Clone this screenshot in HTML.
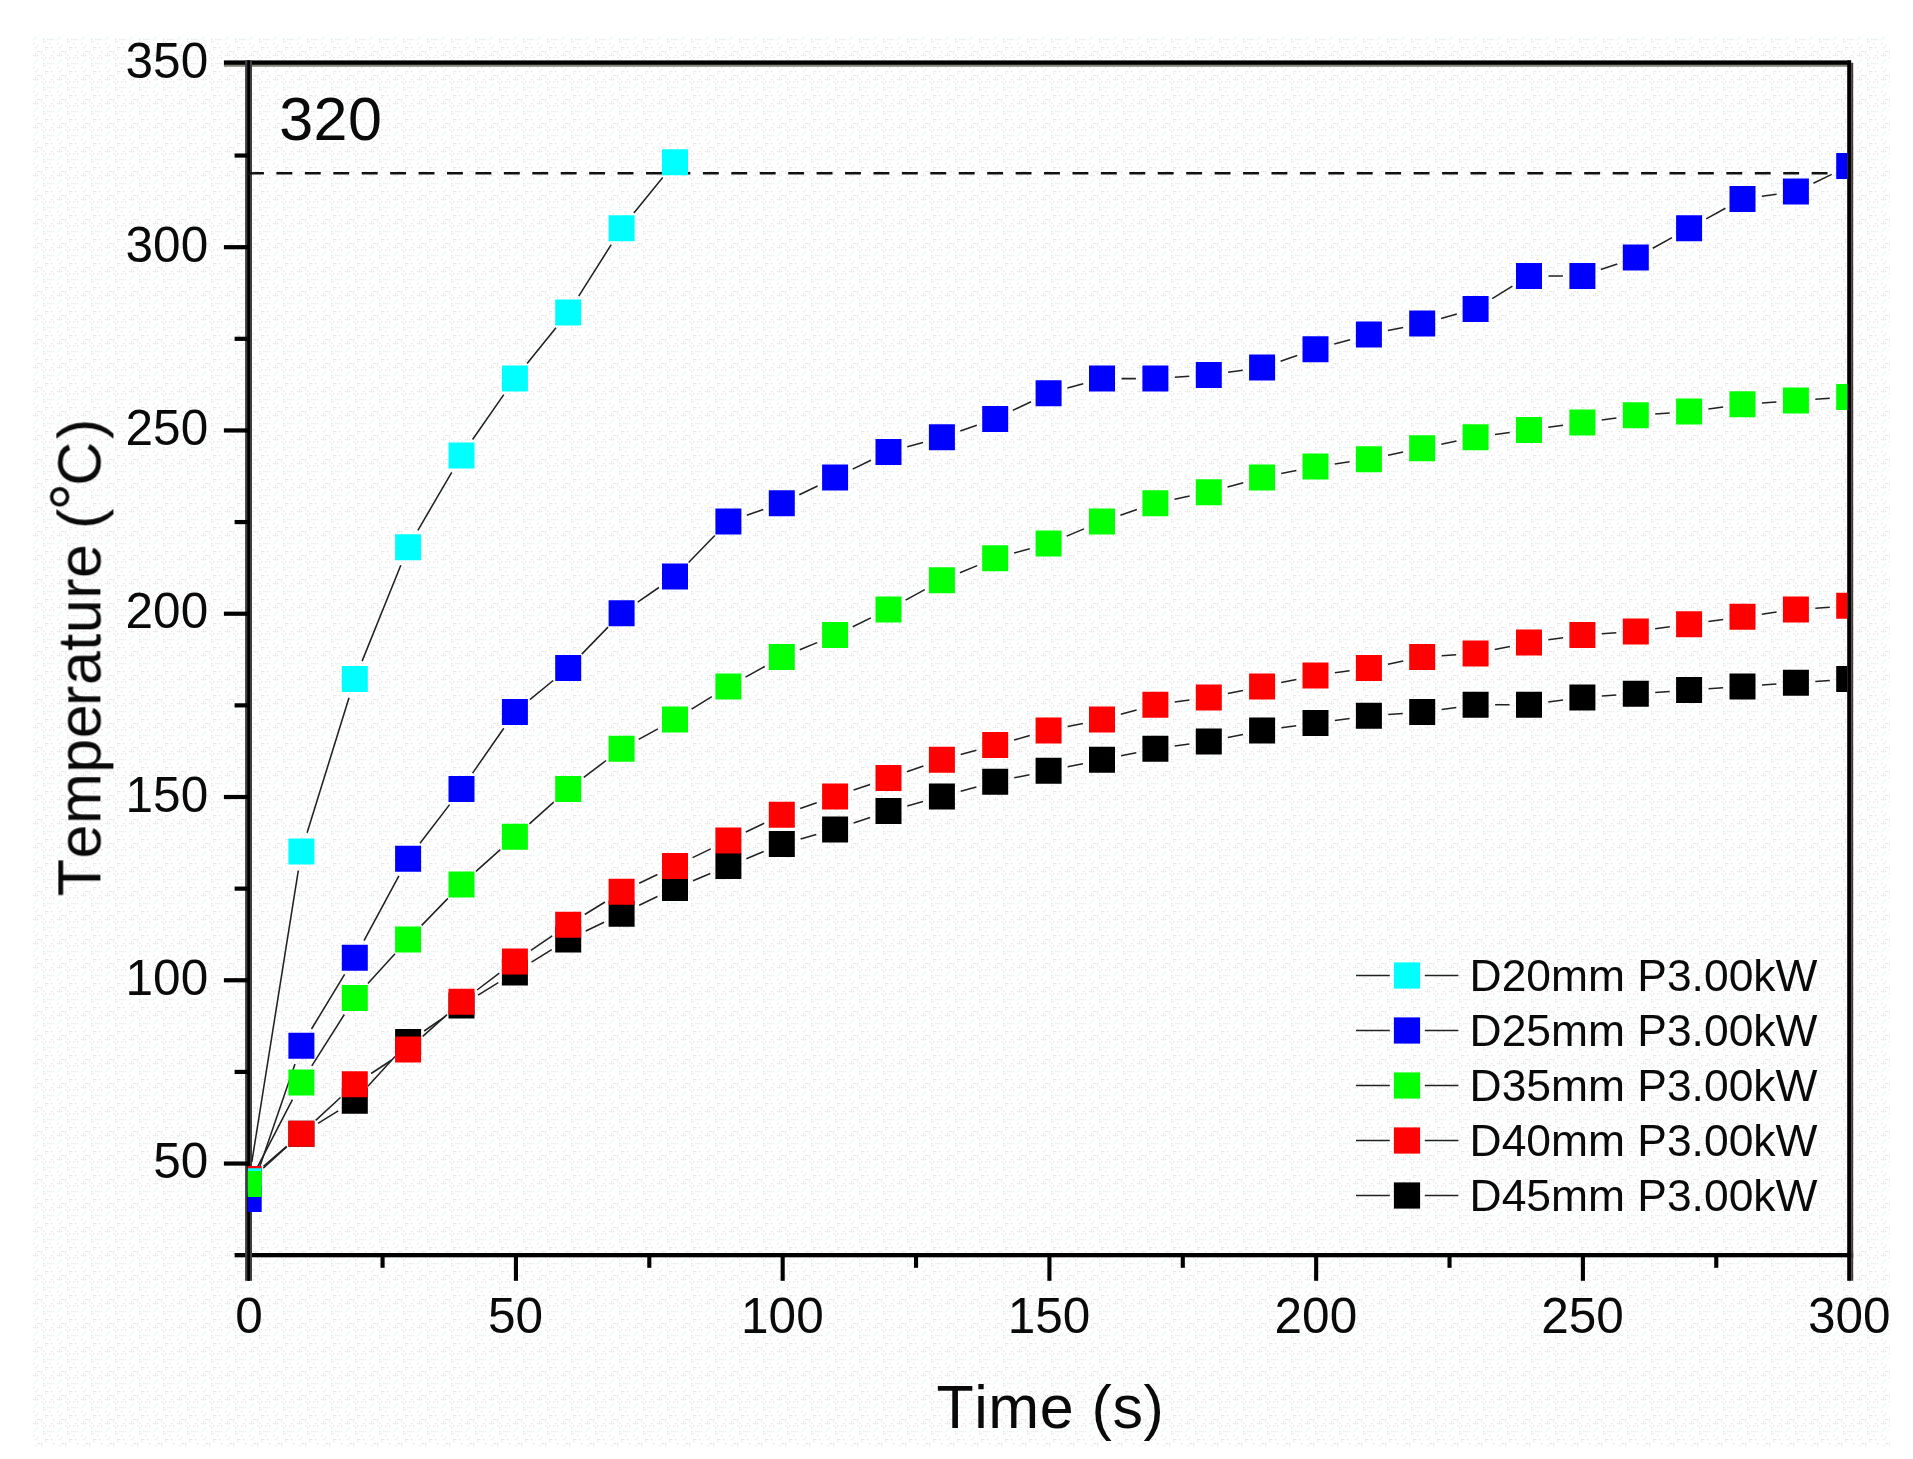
<!DOCTYPE html>
<html lang="en"><head><meta charset="utf-8"><title>Temperature vs Time</title>
<style>
html,body{margin:0;padding:0;background:#fff;}
body{width:1913px;height:1459px;overflow:hidden;}
svg{display:block;}
text{font-family:"Liberation Sans",Arial,Helvetica,sans-serif;fill:#0a0a0a;font-kerning:none;filter:blur(0.45px);}
.tk{font-size:49.5px;}
.lg{font-size:44.4px;}
.tt{font-size:61px;letter-spacing:0.85px;}
</style></head><body>
<svg width="1913" height="1459" viewBox="0 0 1913 1459">
<defs>
<pattern id="dz" x="33" y="37" width="24" height="24" patternUnits="userSpaceOnUse"><rect x="10" y="4" width="1.3" height="1.3" fill="#e3e3e3"/><rect x="0" y="2" width="1.3" height="1.3" fill="#d4f6f9"/><rect x="2" y="10" width="1.3" height="1.3" fill="#e3e3e3"/><rect x="16" y="6" width="1.3" height="1.3" fill="#e3e3e3"/><rect x="12" y="12" width="1.3" height="1.3" fill="#e3e3e3"/><rect x="2" y="16" width="1.3" height="1.3" fill="#e3e3e3"/><rect x="18" y="2" width="1.3" height="1.3" fill="#fbe3e3"/><rect x="20" y="20" width="1.3" height="1.3" fill="#e3e3e3"/><rect x="0" y="18" width="1.3" height="1.3" fill="#e3e3e3"/><rect x="0" y="6" width="1.3" height="1.3" fill="#e3e3e3"/><rect x="4" y="8" width="1.3" height="1.3" fill="#e3e3e3"/><rect x="16" y="2" width="1.3" height="1.3" fill="#e3e3e3"/><rect x="16" y="20" width="1.3" height="1.3" fill="#e3e3e3"/><rect x="18" y="18" width="1.3" height="1.3" fill="#e3e3e3"/><rect x="10" y="2" width="1.3" height="1.3" fill="#e3e3e3"/><rect x="2" y="18" width="1.3" height="1.3" fill="#e3e3e3"/><rect x="6" y="14" width="1.3" height="1.3" fill="#e3e3e3"/><rect x="12" y="10" width="1.3" height="1.3" fill="#e3e3e3"/><rect x="14" y="10" width="1.3" height="1.3" fill="#e3e3e3"/><rect x="4" y="22" width="1.3" height="1.3" fill="#d4f6f9"/><rect x="8" y="16" width="1.3" height="1.3" fill="#e3e3e3"/><rect x="10" y="22" width="1.3" height="1.3" fill="#e3e3e3"/><rect x="12" y="4" width="1.3" height="1.3" fill="#d4f6f9"/><rect x="4" y="14" width="1.3" height="1.3" fill="#e3e3e3"/><rect x="20" y="2" width="1.3" height="1.3" fill="#d4f6f9"/><rect x="18" y="10" width="1.3" height="1.3" fill="#e3e3e3"/><rect x="10" y="18" width="1.3" height="1.3" fill="#e3e3e3"/><rect x="14" y="2" width="1.3" height="1.3" fill="#d4f6f9"/><rect x="8" y="14" width="1.3" height="1.3" fill="#e3e3e3"/><rect x="2" y="0" width="1.3" height="1.3" fill="#d4f6f9"/><rect x="8" y="20" width="1.3" height="1.3" fill="#e3e3e3"/><rect x="20" y="14" width="1.3" height="1.3" fill="#e3e3e3"/><rect x="12" y="20" width="1.3" height="1.3" fill="#e3e3e3"/><rect x="4" y="18" width="1.3" height="1.3" fill="#e3e3e3"/></pattern>
<clipPath id="cp"><rect x="247.8" y="40" width="1599.5" height="1300"/></clipPath>
</defs>
<rect x="0" y="0" width="1913" height="1459" fill="#ffffff"/>
<rect x="33" y="37" width="1857" height="1409" fill="url(#dz)"/>
<rect x="223.9" y="60.4" width="1627.2" height="4.5" fill="#000"/>
<rect x="223.9" y="64.9" width="1627.2" height="1.9" fill="#858578"/>
<rect x="234.6" y="1253.0" width="1618.6" height="4.3" fill="#000"/>
<rect x="245.1" y="60.4" width="6.9" height="1220.4" fill="#3e3e3e"/>
<rect x="247.3" y="60.4" width="2.7" height="1220.4" fill="#000"/>
<rect x="1847.2" y="60.4" width="3.9" height="1220.4" fill="#000"/>
<rect x="1851.1" y="62.8" width="2.1" height="1218.0" fill="#453a3a"/>
<rect x="234.6" y="153.44" width="13" height="4.2" fill="#000"/>
<rect x="223.9" y="245.08" width="24" height="4.2" fill="#000"/>
<rect x="234.6" y="336.71" width="13" height="4.2" fill="#000"/>
<rect x="223.9" y="428.35" width="24" height="4.2" fill="#000"/>
<rect x="234.6" y="519.99" width="13" height="4.2" fill="#000"/>
<rect x="223.9" y="611.62" width="24" height="4.2" fill="#000"/>
<rect x="234.6" y="703.26" width="13" height="4.2" fill="#000"/>
<rect x="223.9" y="794.90" width="24" height="4.2" fill="#000"/>
<rect x="234.6" y="886.54" width="13" height="4.2" fill="#000"/>
<rect x="223.9" y="978.17" width="24" height="4.2" fill="#000"/>
<rect x="234.6" y="1069.81" width="13" height="4.2" fill="#000"/>
<rect x="223.9" y="1161.45" width="24" height="4.2" fill="#000"/>
<rect x="380.52" y="1255" width="4.1" height="12.8" fill="#000"/>
<rect x="513.89" y="1255" width="4.1" height="25.8" fill="#000"/>
<rect x="647.26" y="1255" width="4.1" height="12.8" fill="#000"/>
<rect x="780.63" y="1255" width="4.1" height="25.8" fill="#000"/>
<rect x="914.00" y="1255" width="4.1" height="12.8" fill="#000"/>
<rect x="1047.37" y="1255" width="4.1" height="25.8" fill="#000"/>
<rect x="1180.74" y="1255" width="4.1" height="12.8" fill="#000"/>
<rect x="1314.11" y="1255" width="4.1" height="25.8" fill="#000"/>
<rect x="1447.48" y="1255" width="4.1" height="12.8" fill="#000"/>
<rect x="1580.85" y="1255" width="4.1" height="25.8" fill="#000"/>
<rect x="1714.22" y="1255" width="4.1" height="12.8" fill="#000"/>
<line x1="248" y1="173.3" x2="1836" y2="173.3" stroke="#111" stroke-width="2.4" stroke-dasharray="15.9 12.53"/>
<g clip-path="url(#cp)">
<path d="M263.2 1168.3L286.9 1146.8M318.0 1123.4L338.2 1110.9M367.9 1086.3L395.0 1056.5M424.2 1031.0L445.4 1016.4M478.1 995.1L498.3 982.6M531.5 962.1L551.7 949.7M585.8 931.0L604.1 922.2M639.2 905.3L657.4 896.5M693.0 880.7L710.3 873.5M746.4 858.7L763.7 851.5M800.6 838.9L816.3 834.6M853.6 823.1L870.1 817.4M907.3 805.9L923.1 801.6M960.7 791.3L976.4 786.9M1014.3 777.8L1029.5 774.7M1067.7 766.8L1082.9 763.7M1121.1 755.8L1136.3 752.7M1174.7 746.1L1189.4 744.1M1227.8 737.5L1243.0 734.4M1281.4 727.8L1296.2 725.8M1334.8 720.5L1349.6 718.4M1388.3 714.5L1402.8 713.5M1441.6 709.5L1456.3 707.5M1495.1 704.8L1509.5 704.8M1548.3 702.1L1563.1 700.1M1601.8 696.1L1616.3 695.1M1655.2 692.5L1669.7 691.5M1708.6 688.8L1723.0 687.8M1762.0 685.1L1776.4 684.1M1815.3 681.5L1829.8 680.5" stroke="#222222" stroke-width="1.55" fill="none"/>
<path d="M263.5 1166.4L286.6 1146.4M315.7 1120.4L340.5 1097.5M371.1 1073.5L391.8 1060.0M422.7 1036.4L447.0 1014.7M477.1 990.0L499.3 973.2M530.9 950.4L552.2 935.8M584.8 914.5L605.0 902.0M639.2 883.3L657.4 874.5M692.6 857.6L710.8 848.9M745.9 832.0L764.2 823.2M800.2 808.4L816.7 802.8M853.6 790.1L870.1 784.4M906.9 771.8L923.4 766.1M960.7 754.6L976.4 750.3M1014.1 740.0L1029.8 735.6M1067.7 726.5L1082.9 723.4M1120.8 714.3L1136.6 710.0M1174.7 702.1L1189.4 700.1M1227.8 693.5L1243.0 690.4M1281.2 682.5L1296.4 679.4M1334.8 672.8L1349.6 670.8M1388.0 664.2L1403.2 661.1M1441.7 655.8L1456.2 654.8M1494.7 649.5L1509.9 646.4M1548.3 639.8L1563.1 637.8M1601.8 633.8L1616.3 632.8M1655.1 628.8L1669.8 626.8M1708.4 621.5L1723.2 619.5M1761.8 614.2L1776.6 612.1M1815.3 608.2L1829.8 607.2" stroke="#222222" stroke-width="1.55" fill="none"/>
<path d="M251.8 1162.1L298.3 870.7M307.1 832.8L349.0 697.8M362.1 661.1L400.8 565.2M417.9 530.3L451.7 472.4M472.6 439.5L503.8 394.6M527.1 363.4L556.0 327.7M578.7 296.1L611.2 244.7M633.9 213.1L662.7 177.4" stroke="#222222" stroke-width="1.55" fill="none"/>
<path d="M255.0 1180.5L295.0 1064.1M311.5 1029.0L344.6 974.4M364.0 940.6L398.9 875.9M420.0 843.3L449.6 804.6M472.6 773.1L503.8 728.2M529.9 699.7L553.2 680.5M581.8 654.1L608.0 627.1M637.7 602.1L658.9 587.5M688.6 562.5L714.8 535.5M746.8 515.2L763.3 509.5M799.3 494.7L817.6 486.0M852.7 469.1L870.9 460.3M907.3 446.7L923.1 442.4M960.3 430.9L976.8 425.2M1012.8 410.4L1031.1 401.7M1067.4 388.0L1083.2 383.7M1121.5 378.6L1135.9 378.6M1174.8 377.2L1189.3 376.2M1228.1 372.2L1242.8 370.2M1280.6 361.2L1297.1 355.6M1334.3 344.1L1350.1 339.7M1388.0 330.6L1403.2 327.5M1441.1 318.4L1456.8 314.1M1492.2 298.6L1512.4 286.2M1548.5 275.9L1562.9 275.9M1600.8 269.6L1617.3 263.9M1652.8 248.2L1672.0 237.6M1706.2 218.9L1725.4 208.3M1761.8 196.3L1776.6 194.3M1813.4 183.2L1831.7 174.4" stroke="#222222" stroke-width="1.55" fill="none"/>
<path d="M257.7 1166.6L292.4 1099.7M311.8 1065.9L344.3 1014.5M367.9 983.6L395.0 953.8M421.7 925.4L447.9 898.4M476.0 871.4L500.3 849.7M529.4 823.8L553.7 802.1M583.8 777.4L606.1 760.5M638.7 739.4L657.9 728.9M691.6 709.2L711.8 696.7M745.5 677.1L764.7 666.5M799.8 649.7L817.1 642.6M852.7 626.7L870.9 617.9M905.6 600.1L924.8 589.6M959.9 572.7L977.2 565.6M1014.1 553.0L1029.8 548.7M1066.7 536.1L1084.0 528.9M1120.4 515.2L1136.9 509.5M1174.5 499.2L1189.7 496.1M1227.6 487.0L1243.3 482.7M1281.2 473.6L1296.4 470.5M1334.8 463.9L1349.6 461.8M1388.0 455.3L1403.2 452.1M1441.3 444.3L1456.5 441.1M1494.9 434.5L1509.7 432.5M1548.3 427.2L1563.1 425.2M1601.7 419.9L1616.4 417.9M1655.2 413.9L1669.7 412.9M1708.4 408.9L1723.2 406.9M1762.0 402.9L1776.4 401.9M1815.3 399.2L1829.8 398.2" stroke="#222222" stroke-width="1.55" fill="none"/>
<path d="M235.7 1168.3h26.0v26.0h-26.0zM288.4 1120.7h26.0v26.0h-26.0zM341.8 1087.7h26.0v26.0h-26.0zM395.1 1029.0h26.0v26.0h-26.0zM448.5 992.4h26.0v26.0h-26.0zM501.9 959.4h26.0v26.0h-26.0zM555.2 926.4h26.0v26.0h-26.0zM608.6 900.7h26.0v26.0h-26.0zM662.0 875.1h26.0v26.0h-26.0zM715.4 853.1h26.0v26.0h-26.0zM768.8 831.1h26.0v26.0h-26.0zM822.1 816.4h26.0v26.0h-26.0zM875.5 798.1h26.0v26.0h-26.0zM928.9 783.4h26.0v26.0h-26.0zM982.2 768.8h26.0v26.0h-26.0zM1035.6 757.8h26.0v26.0h-26.0zM1089.0 746.8h26.0v26.0h-26.0zM1142.4 735.8h26.0v26.0h-26.0zM1195.8 728.5h26.0v26.0h-26.0zM1249.1 717.5h26.0v26.0h-26.0zM1302.5 710.1h26.0v26.0h-26.0zM1355.9 702.8h26.0v26.0h-26.0zM1409.2 699.1h26.0v26.0h-26.0zM1462.6 691.8h26.0v26.0h-26.0zM1516.0 691.8h26.0v26.0h-26.0zM1569.4 684.5h26.0v26.0h-26.0zM1622.8 680.8h26.0v26.0h-26.0zM1676.1 677.1h26.0v26.0h-26.0zM1729.5 673.5h26.0v26.0h-26.0zM1782.9 669.8h26.0v26.0h-26.0zM1836.2 666.1h26.0v26.0h-26.0z" fill="#000000"/>
<path d="M235.7 1166.1h26.0v26.0h-26.0zM288.4 1120.7h26.0v26.0h-26.0zM341.8 1071.2h26.0v26.0h-26.0zM395.1 1036.4h26.0v26.0h-26.0zM448.5 988.7h26.0v26.0h-26.0zM501.9 948.4h26.0v26.0h-26.0zM555.2 911.7h26.0v26.0h-26.0zM608.6 878.7h26.0v26.0h-26.0zM662.0 853.1h26.0v26.0h-26.0zM715.4 827.4h26.0v26.0h-26.0zM768.8 801.8h26.0v26.0h-26.0zM822.1 783.4h26.0v26.0h-26.0zM875.5 765.1h26.0v26.0h-26.0zM928.9 746.8h26.0v26.0h-26.0zM982.2 732.1h26.0v26.0h-26.0zM1035.6 717.5h26.0v26.0h-26.0zM1089.0 706.5h26.0v26.0h-26.0zM1142.4 691.8h26.0v26.0h-26.0zM1195.8 684.5h26.0v26.0h-26.0zM1249.1 673.5h26.0v26.0h-26.0zM1302.5 662.5h26.0v26.0h-26.0zM1355.9 655.1h26.0v26.0h-26.0zM1409.2 644.1h26.0v26.0h-26.0zM1462.6 640.5h26.0v26.0h-26.0zM1516.0 629.5h26.0v26.0h-26.0zM1569.4 622.1h26.0v26.0h-26.0zM1622.8 618.5h26.0v26.0h-26.0zM1676.1 611.2h26.0v26.0h-26.0zM1729.5 603.8h26.0v26.0h-26.0zM1782.9 596.5h26.0v26.0h-26.0zM1836.2 592.8h26.0v26.0h-26.0z" fill="#ff0000"/>
<path d="M235.7 1168.3h26.0v26.0h-26.0zM288.4 838.4h26.0v26.0h-26.0zM341.8 666.1h26.0v26.0h-26.0zM395.1 534.2h26.0v26.0h-26.0zM448.5 442.5h26.0v26.0h-26.0zM501.9 365.6h26.0v26.0h-26.0zM555.2 299.6h26.0v26.0h-26.0zM608.6 215.3h26.0v26.0h-26.0zM662.0 149.3h26.0v26.0h-26.0z" fill="#00ffff"/>
<path d="M235.7 1185.9h26.0v26.0h-26.0zM288.4 1032.7h26.0v26.0h-26.0zM341.8 944.7h26.0v26.0h-26.0zM395.1 845.8h26.0v26.0h-26.0zM448.5 776.1h26.0v26.0h-26.0zM501.9 699.1h26.0v26.0h-26.0zM555.2 655.1h26.0v26.0h-26.0zM608.6 600.2h26.0v26.0h-26.0zM662.0 563.5h26.0v26.0h-26.0zM715.4 508.5h26.0v26.0h-26.0zM768.8 490.2h26.0v26.0h-26.0zM822.1 464.5h26.0v26.0h-26.0zM875.5 438.9h26.0v26.0h-26.0zM928.9 424.2h26.0v26.0h-26.0zM982.2 405.9h26.0v26.0h-26.0zM1035.6 380.2h26.0v26.0h-26.0zM1089.0 365.6h26.0v26.0h-26.0zM1142.4 365.6h26.0v26.0h-26.0zM1195.8 361.9h26.0v26.0h-26.0zM1249.1 354.6h26.0v26.0h-26.0zM1302.5 336.2h26.0v26.0h-26.0zM1355.9 321.6h26.0v26.0h-26.0zM1409.2 310.6h26.0v26.0h-26.0zM1462.6 295.9h26.0v26.0h-26.0zM1516.0 262.9h26.0v26.0h-26.0zM1569.4 262.9h26.0v26.0h-26.0zM1622.8 244.6h26.0v26.0h-26.0zM1676.1 215.3h26.0v26.0h-26.0zM1729.5 185.9h26.0v26.0h-26.0zM1782.9 178.6h26.0v26.0h-26.0zM1836.2 152.9h26.0v26.0h-26.0z" fill="#0000ff"/>
<path d="M235.7 1170.9h26.0v26.0h-26.0zM288.4 1069.4h26.0v26.0h-26.0zM341.8 985.1h26.0v26.0h-26.0zM395.1 926.4h26.0v26.0h-26.0zM448.5 871.4h26.0v26.0h-26.0zM501.9 823.8h26.0v26.0h-26.0zM555.2 776.1h26.0v26.0h-26.0zM608.6 735.8h26.0v26.0h-26.0zM662.0 706.5h26.0v26.0h-26.0zM715.4 673.5h26.0v26.0h-26.0zM768.8 644.1h26.0v26.0h-26.0zM822.1 622.1h26.0v26.0h-26.0zM875.5 596.5h26.0v26.0h-26.0zM928.9 567.2h26.0v26.0h-26.0zM982.2 545.2h26.0v26.0h-26.0zM1035.6 530.5h26.0v26.0h-26.0zM1089.0 508.5h26.0v26.0h-26.0zM1142.4 490.2h26.0v26.0h-26.0zM1195.8 479.2h26.0v26.0h-26.0zM1249.1 464.5h26.0v26.0h-26.0zM1302.5 453.5h26.0v26.0h-26.0zM1355.9 446.2h26.0v26.0h-26.0zM1409.2 435.2h26.0v26.0h-26.0zM1462.6 424.2h26.0v26.0h-26.0zM1516.0 416.9h26.0v26.0h-26.0zM1569.4 409.5h26.0v26.0h-26.0zM1622.8 402.2h26.0v26.0h-26.0zM1676.1 398.5h26.0v26.0h-26.0zM1729.5 391.2h26.0v26.0h-26.0zM1782.9 387.5h26.0v26.0h-26.0zM1836.2 383.9h26.0v26.0h-26.0z" fill="#00ff00"/>
</g>
<path d="M1356 975.5H1389.8M1424.8 975.5H1458.4" stroke="#222222" stroke-width="1.55" fill="none"/>
<rect x="1393.9" y="962.4" width="26.2" height="26.2" fill="#00ffff"/>
<text class="lg" x="1469.6" y="991.1">D20mm P3.00kW</text>
<path d="M1356 1030.5H1389.8M1424.8 1030.5H1458.4" stroke="#222222" stroke-width="1.55" fill="none"/>
<rect x="1393.9" y="1017.4" width="26.2" height="26.2" fill="#0000ff"/>
<text class="lg" x="1469.6" y="1046.1">D25mm P3.00kW</text>
<path d="M1356 1085.5H1389.8M1424.8 1085.5H1458.4" stroke="#222222" stroke-width="1.55" fill="none"/>
<rect x="1393.9" y="1072.4" width="26.2" height="26.2" fill="#00ff00"/>
<text class="lg" x="1469.6" y="1101.1">D35mm P3.00kW</text>
<path d="M1356 1140.5H1389.8M1424.8 1140.5H1458.4" stroke="#222222" stroke-width="1.55" fill="none"/>
<rect x="1393.9" y="1127.4" width="26.2" height="26.2" fill="#ff0000"/>
<text class="lg" x="1469.6" y="1156.1">D40mm P3.00kW</text>
<path d="M1356 1195.5H1389.8M1424.8 1195.5H1458.4" stroke="#222222" stroke-width="1.55" fill="none"/>
<rect x="1393.9" y="1182.4" width="26.2" height="26.2" fill="#000000"/>
<text class="lg" x="1469.6" y="1211.1">D45mm P3.00kW</text>
<text class="tk" text-anchor="end" x="208.2" y="1178.1">50</text>
<text class="tk" text-anchor="end" x="208.2" y="994.8">100</text>
<text class="tk" text-anchor="end" x="208.2" y="811.5">150</text>
<text class="tk" text-anchor="end" x="208.2" y="628.2">200</text>
<text class="tk" text-anchor="end" x="208.2" y="444.9">250</text>
<text class="tk" text-anchor="end" x="208.2" y="261.7">300</text>
<text class="tk" text-anchor="end" x="208.2" y="78.4">350</text>
<text class="tk" text-anchor="middle" x="248.9" y="1333.3">0</text>
<text class="tk" text-anchor="middle" x="515.6" y="1333.3">50</text>
<text class="tk" text-anchor="middle" x="782.4" y="1333.3">100</text>
<text class="tk" text-anchor="middle" x="1049.1" y="1333.3">150</text>
<text class="tk" text-anchor="middle" x="1315.9" y="1333.3">200</text>
<text class="tk" text-anchor="middle" x="1582.6" y="1333.3">250</text>
<text class="tk" text-anchor="middle" x="1849.3" y="1333.3">300</text>
<text class="tt" x="279.3" y="139.9" style="letter-spacing:0.4px">320</text>
<text class="tt" text-anchor="middle" x="1050.4" y="1428.4" style="letter-spacing:0.55px">Time (s)</text>
<text class="tt" transform="translate(100.4 896.3) rotate(-90)" style="letter-spacing:0.5px">Tempe<tspan dx="-2">rature </tspan><tspan dx="-2.9">(</tspan><tspan style="font-size:70px" dy="-1" dx="-2.5">°</tspan><tspan dy="1" dx="-3.6">C</tspan><tspan dx="2.3">)</tspan></text>
</svg>
</body></html>
